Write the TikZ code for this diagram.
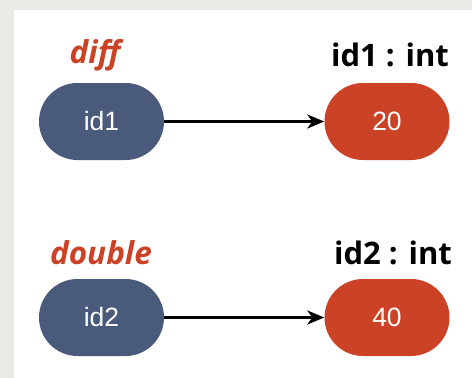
\documentclass[tikz,border=0pt]{standalone}
\usepackage{fontspec}
\setmainfont{Liberation Sans}
\newfontfamily\labelfont{Open Sans}
\usetikzlibrary{arrows.meta,shapes.misc}
\definecolor{nodeblue}{HTML}{4A5A7A}
\definecolor{nodered}{HTML}{CC4226}
\definecolor{framegray}{HTML}{EAEAE4}
\tikzset{
  pillbox/.style={rounded rectangle, minimum width=125pt, minimum height=77pt, inner sep=0pt, text=white, font=\fontsize{26.5}{30}\selectfont},
  varpill/.style={pillbox, fill=nodeblue},
  valpill/.style={pillbox, fill=nodered},
  typelabel/.style={font=\labelfont\bfseries\itshape\fontsize{31.5}{36}\selectfont, text=nodered},
  namelabel/.style={font=\labelfont\bfseries\fontsize{31}{36}\selectfont, text=black},
  link/.style={line width=2.8pt, -{Stealth[length=17pt,width=14pt,inset=5pt]}}
}
\begin{document}
\begin{tikzpicture}[x=1pt,y=-1pt]
\fill[framegray] (0,0) rectangle (472,378);
\fill[white] (14,10) rectangle (472,378);
\useasboundingbox (0,0) rectangle (472,378);
\node[varpill] (v1) at (101.5,121.5) {id1};
\node[valpill] (r1) at (387,121.5) {20};
\node[varpill] (v2) at (101.5,317.5) {id2};
\node[valpill] (r2) at (387,317.5) {40};
\node[typelabel] (t1) at (95,55) {diff};
\node[namelabel] (n1) at (390,55) {id1 : int};
\node[typelabel] (t2) at (101,253) {double};
\node[namelabel] (n2) at (393,253) {id2 : int};
\draw[link] (v1) -- (r1);
\draw[link] (v2) -- (r2);
\end{tikzpicture}
\end{document}
